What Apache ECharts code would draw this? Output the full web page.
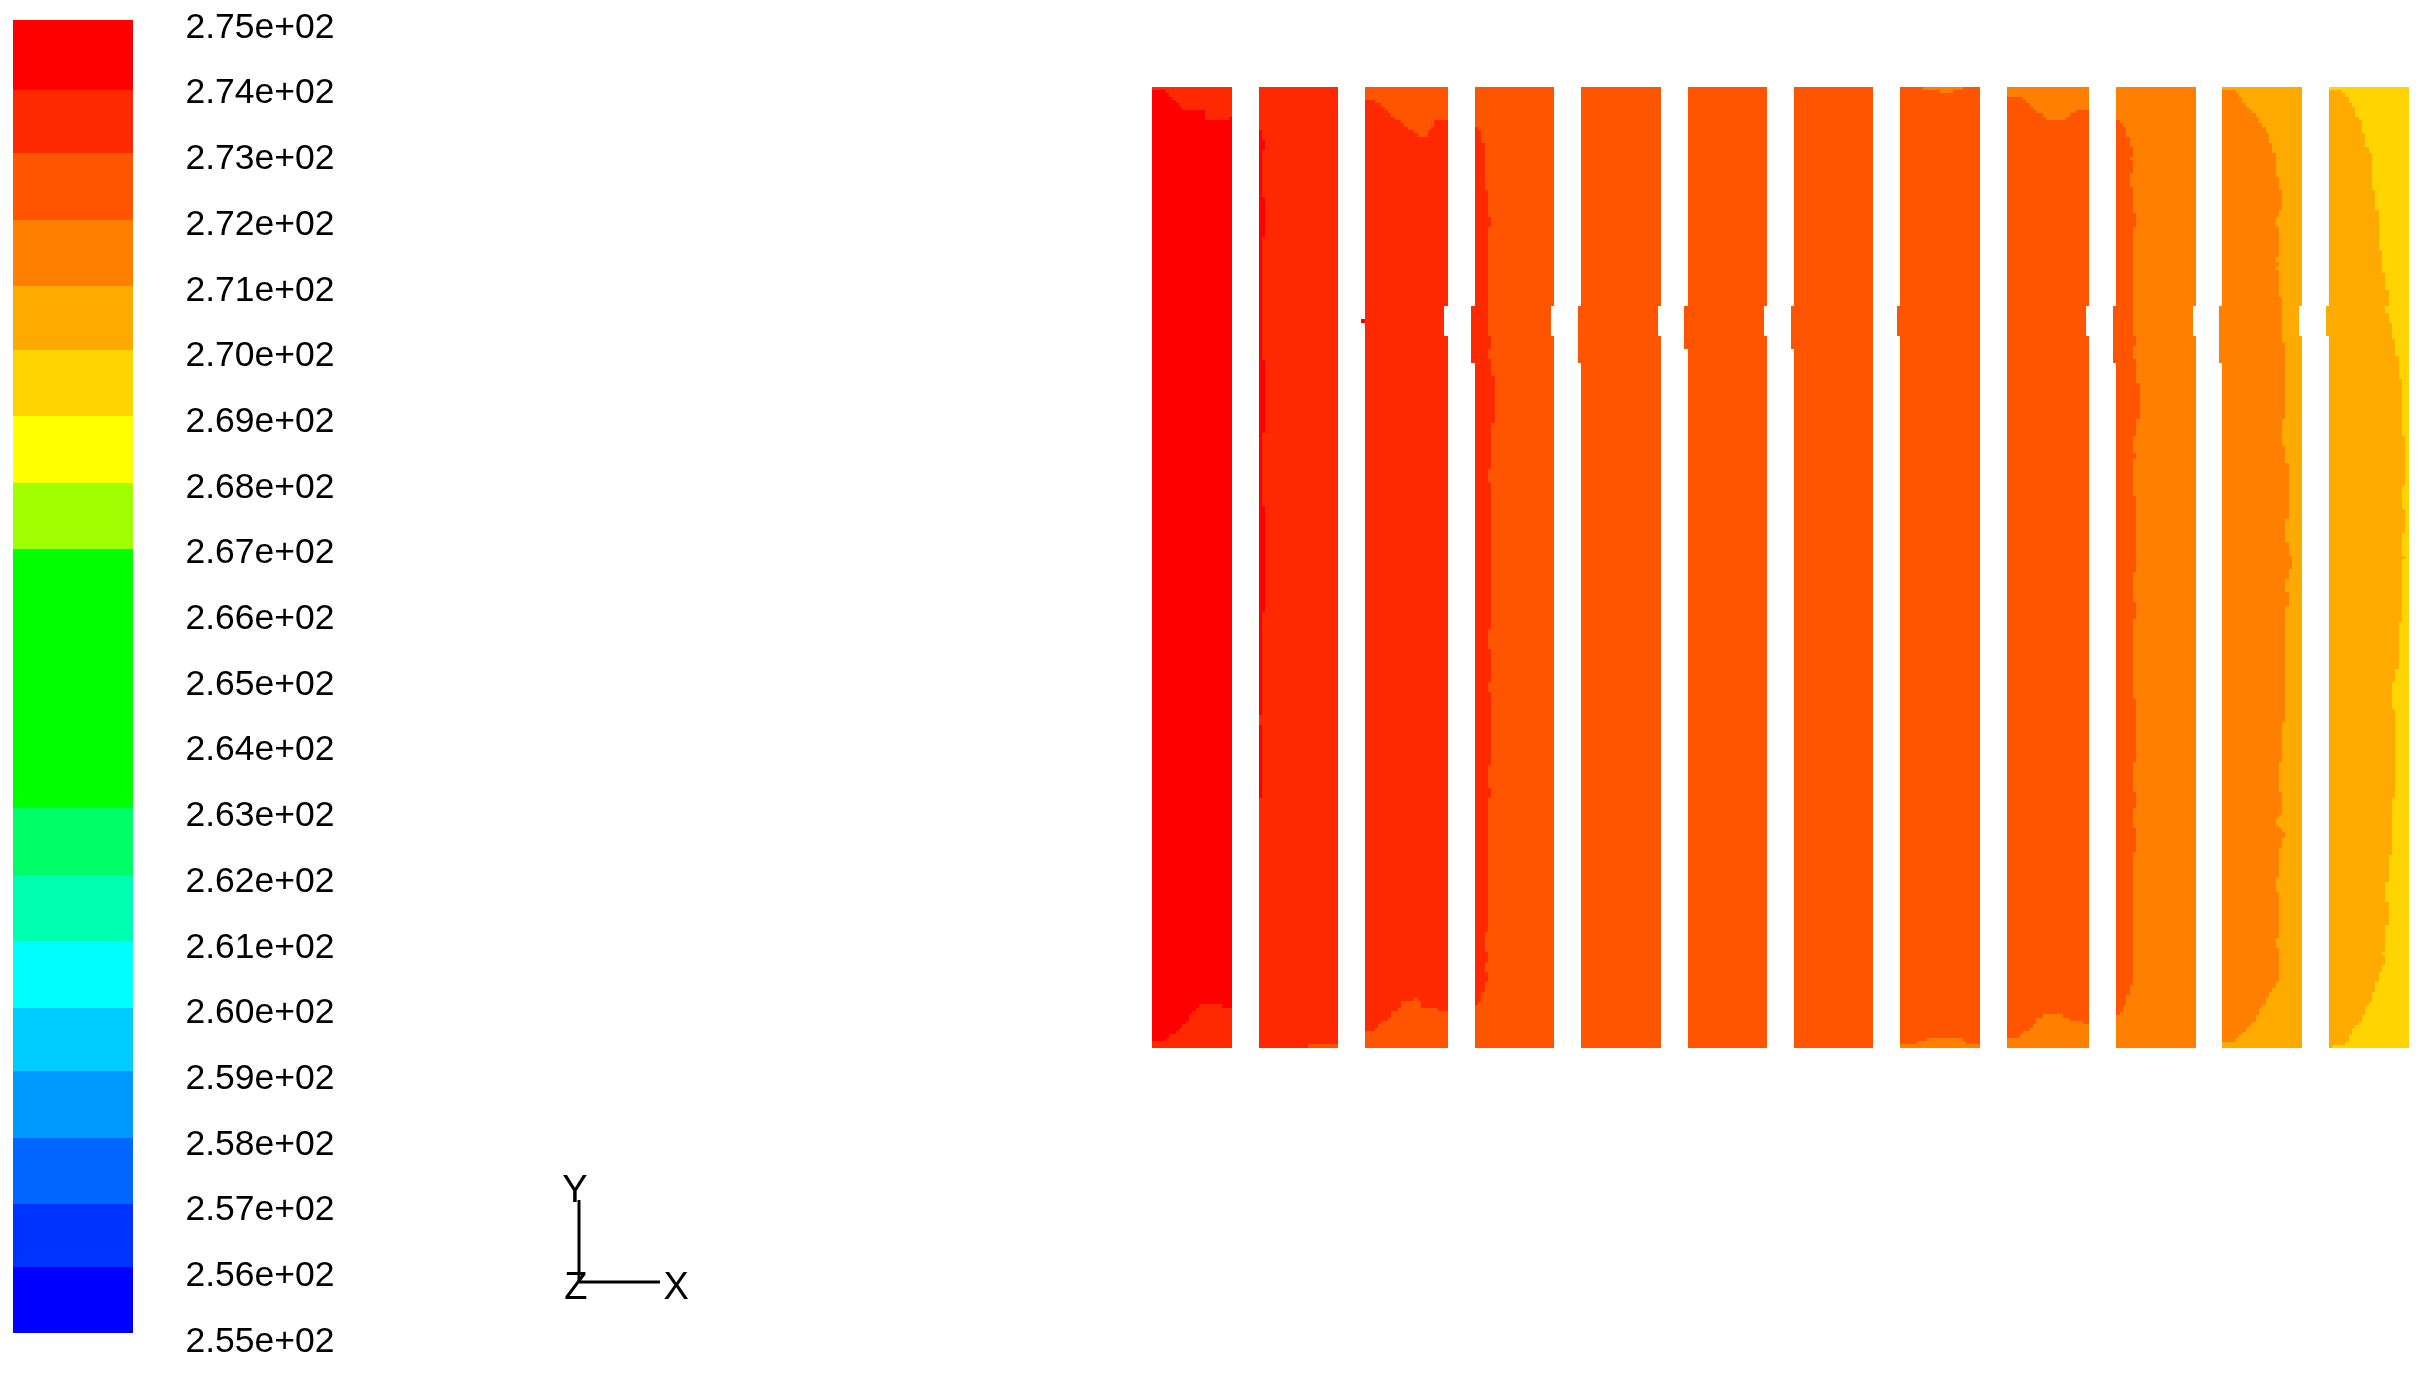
<!DOCTYPE html>
<html>
<head>
<meta charset="utf-8">
<style>html,body{margin:0;padding:0;background:#fff}#c{width:2428px;height:1381px}</style>
<script src="https://cdn.jsdelivr.net/npm/echarts@6/dist/echarts.min.js"></script>
</head>
<body>
<div id="c"></div>
<script>
// Contour levels: colours from the top of the colour bar (275) to the bottom (255)
const levelColors = ['#ff0000','#ff2900','#ff5500','#ff8000','#ffaa00','#ffd400','#ffff00','#a0ff00',
  '#00ff00','#00ff00','#00ff00','#00ff00','#00ff66','#00ffb0','#00ffff','#00ccff','#0099ff','#0066ff','#0033ff','#0000ff'];
// Band edges on the temperature axis (21 edges for 20 bands)
const bandEdges = [275.12,274.06,273.10,272.08,271.07,270.10,269.09,268.08,267.07,266.07,265.06,264.09,263.13,262.11,261.10,260.08,259.13,258.11,257.10,256.14,255.13];
const tickLabels = ['2.55e+02','2.56e+02','2.57e+02','2.58e+02','2.59e+02','2.60e+02','2.61e+02','2.62e+02','2.63e+02','2.64e+02','2.65e+02','2.66e+02','2.67e+02','2.68e+02','2.69e+02','2.70e+02','2.71e+02','2.72e+02','2.73e+02','2.74e+02','2.75e+02'];

// Field: mesh-cell units. Twelve strips, each with a base contour level.
const fieldHeight = 288.3;
const stripOffset = [0,32,64,97.2,129.3,161.4,193.4,225.4,257.5,290.6,322.6,354.7];
const stripWidth  = [24,24,25,24,24,24,24,24,25,24,24,24];
const stripBase   = [1,1,2,2,2,2,2,2,3,3,4,5];
const stripBulgeEnd = [null,null,null,82.8,82.8,78.8,78.8,74.8,null,82.8,82.8,74.8];
const stripNotch  = [false,false,true,true,true,true,false,false,true,true,true,false];
const tabTop = 65.8, notchEnd = 74.8;

// Contours inside the strips: start cell, then moves [col,row] (across to col, then along to row)
const contourS1 = {strip:0,level:0,start:[0,1],moves:[[4,2],[5,3],[6,4],[7,5],[8,6],[9,7],[16,10],[23,9],[24,276.3],[21,275.3],[14,276.3],[13,277.3],[12,278.3],[11,280.3],[10,281.3],[9,282.3],[8,283.3],[7,284.3],[5,285.3],[4,286.3],[0,286.3]]};
const contourS2a = {strip:1,level:0,start:[0,13],moves:[[1,16],[2,19],[1,33],[2,45],[1,82],[2,103.8],[1,125.8],[2,157.5],[1,188.5],[0,188.5]]};
const contourS2b = {strip:1,level:0,start:[0,191.5],moves:[[1,213.5],[0,213.5]]};
const contourS2c = {strip:1,level:2,start:[15,287.3],moves:[[24,288.3],[15,288.3]]};
const contourS3 = {strip:2,level:1,start:[0,4],moves:[[3,5],[5,6],[6,7],[7,8],[8,9],[9,10],[11,11],[12,12],[13,13],[15,14],[16,15],[19,13],[20,12],[21,10],[25,65.8],[24,74.8],[25,277.3],[22,276.3],[17,274.3],[16,273.3],[15,274.3],[11,276.3],[10,277.3],[8,279.3],[7,280.3],[5,281.3],[4,282.3],[3,283.3],[0,283.3]]};
const contourS3b = {strip:2,level:0,start:[-1,69.8],moves:[[0,70.8],[-1,70.8]]};
const contourS4 = {strip:3,level:1,start:[0,12],moves:[[1,13],[2,17],[3,31],[4,39],[5,42],[4,74.8],[5,78.8],[4,81.8],[5,86.8],[6,100.8],[5,114.7],[4,118.7],[5,162.6],[4,168.6],[5,178.6],[4,181.6],[5,203.5],[4,210.5],[5,213.5],[4,253.5],[3,259.5],[4,262.5],[3,265.5],[4,268.5],[3,271.5],[2,274.5],[1,275.5],[0,275.5],[0,82.8],[-1,65.8]]};
const contourS8a = {strip:7,level:3,start:[7,0],moves:[[19,1],[16,2],[12,1],[7,0]]};
const contourS8b = {strip:7,level:3,start:[0,287.3],moves:[[5,286.3],[8,285.3],[19,286.3],[20,287.3],[24,288.3],[0,288.3]]};
const contourS9 = {strip:8,level:2,start:[0,3],moves:[[5,4],[6,5],[7,6],[8,7],[9,8],[11,9],[12,10],[18,9],[19,8],[21,7],[25,65.8],[24,74.8],[25,281.3],[23,280.3],[19,279.3],[17,278.3],[11,279.3],[9,281.3],[8,282.3],[7,283.3],[5,284.3],[4,285.3],[0,285.3]]};
const contourS10 = {strip:9,level:2,start:[0,10],moves:[[1,11],[2,12],[3,15],[4,18],[5,21],[4,22],[5,26],[4,30],[5,38],[6,42],[5,74.8],[6,77.8],[5,81.8],[6,88.8],[7,99.8],[6,104.8],[5,109.8],[6,111.8],[5,122.8],[6,145.6],[5,154.6],[6,159.6],[5,183.6],[6,202.5],[5,211.5],[6,216.5],[5,222.5],[6,229.5],[5,269.5],[4,272.5],[3,275.5],[2,277.5],[1,278.5],[0,278.5],[0,82.8],[-1,65.8]]};
const contourS11 = {strip:10,level:3,start:[0,1],moves:[[4,2],[5,3],[6,5],[7,6],[8,7],[9,8],[10,9],[11,11],[12,12],[13,14],[14,17],[15,20],[16,27],[17,31],[18,37],[17,39],[16,42],[17,51],[16,52.5],[17,54],[16,55],[17,63],[18,76.8],[19,99.8],[18,107.8],[19,112.8],[20,129.7],[19,136.7],[20,140.7],[21,144.7],[20,147.7],[19,151.7],[20,155.7],[19,190.6],[18,202.5],[17,211.5],[18,218.5],[17,219.5],[16,221.5],[17,222.5],[18,223.5],[19,225.5],[18,228.5],[17,237.5],[16,241.5],[17,255.5],[16,258.5],[17,268.5],[16,270.5],[15,271.5],[14,273.5],[13,275.5],[12,276.5],[11,278.5],[10,280.5],[9,281.5],[8,282.5],[7,283.5],[6,284.5],[5,285.5],[4,286.5],[0,286.5],[0,82.8],[-1,65.8]]};
const contourS12 = {strip:11,level:4,start:[0,1],moves:[[4,2],[5,3],[6,5],[7,6],[8,9],[9,10],[10,14],[11,18],[12,20],[13,31],[14,37],[15,49],[16,56],[17,61],[18,65.8],[17,67.8],[18,70.8],[19,75.8],[20,80.8],[21,87.8],[22,104.8],[23,119.8],[22,126.8],[23,133.8],[22,140.8],[23,141.8],[22,160.6],[21,174.6],[20,178.6],[19,186.6],[20,213.5],[19,230.5],[18,238.5],[17,244.5],[18,251.5],[17,259.5],[16,260.5],[17,263.5],[16,265.5],[15,268.5],[14,271.5],[13,274.5],[12,275.5],[11,278.5],[10,280.5],[9,281.5],[8,282.5],[7,284.5],[6,286.5],[5,287.5],[1,288.3],[0,288.3],[0,74.8],[-1,65.8]]};
const contours = [contourS1,contourS2a,contourS2b,contourS2c,contourS3,contourS3b,contourS4,contourS8a,contourS8b,contourS9,contourS10,contourS11,contourS12];

// Coordinate triad
const triadArms = [[1,0],[0,1]];
const triadNames = [{t:'Y',x:-0.05,y:1.10},{t:'Z',x:-0.04,y:-0.08},{t:'X',x:1.2,y:-0.08}];

function trace(strip, start, moves) {
  const ox = stripOffset[strip];
  const pts = [[start[0]+ox, start[1]]];
  let r = start[1];
  moves.forEach(m => { pts.push([m[0]+ox, r]); pts.push([m[0]+ox, m[1]]); r = m[1]; });
  pts.push([start[0]+ox, r]);
  return pts;
}
function outline(i) {
  const w = stripWidth[i], m = [];
  if (stripNotch[i]) m.push([w,tabTop],[w-1,notchEnd]);
  m.push([w,fieldHeight]);
  if (stripBulgeEnd[i] !== null) m.push([0,fieldHeight],[0,stripBulgeEnd[i]],[-1,tabTop]);
  else m.push([0,fieldHeight]);
  return trace(i,[0,0],m);
}
const fieldRegions = stripOffset.map((_,i)=>({level:stripBase[i],pts:outline(i)}))
  .concat(contours.map(c=>({level:c.level,pts:trace(c.strip,c.start,c.moves)})));

const hidden = i => ({gridIndex:i,type:'value',show:false});
const font = '"Liberation Sans", Arial, sans-serif';

const option = {
  backgroundColor:'#ffffff',
  animation:false,
  grid:[
    {left:1152.4,top:86.7,width:1273.7,height:961},
    {left:13,top:28,width:119.5,height:1314},
    {left:579,top:1200,width:81,height:82}
  ],
  xAxis:[
    Object.assign(hidden(0),{min:0,max:384}),
    Object.assign(hidden(1),{min:0,max:1}),
    Object.assign(hidden(2),{min:0,max:1})
  ],
  yAxis:[
    Object.assign(hidden(0),{min:0,max:fieldHeight,inverse:true}),
    {gridIndex:1,type:'value',position:'right',min:255,max:275,interval:1,
     axisLine:{show:false},axisTick:{show:false},splitLine:{show:false},
     axisLabel:{show:true,margin:53,color:'#000',fontFamily:font,fontSize:35.5,showMinLabel:true,showMaxLabel:true,
       formatter:(v)=>tickLabels[Math.round(v-255)]}},
    Object.assign(hidden(2),{min:0,max:1})
  ],
  series:[
    {type:'custom',xAxisIndex:1,yAxisIndex:1,silent:true,
     data:levelColors.map((c,i)=>[0,1,bandEdges[i],bandEdges[i+1],c]),
     renderItem:(p,api)=>{
       const a=api.coord([api.value(0),api.value(2)]).map(Math.round),b=api.coord([api.value(1),api.value(3)]).map(Math.round);
       return {type:'rect',shape:{x:a[0],y:a[1],width:b[0]-a[0],height:b[1]-a[1]},style:{fill:levelColors[p.dataIndex]}};
     }},
    {type:'custom',xAxisIndex:0,yAxisIndex:0,silent:true,
     data:fieldRegions.map((r,i)=>[i,r.level]),
     renderItem:(p,api)=>{
       const r=fieldRegions[p.dataIndex];
       return {type:'polygon',shape:{points:r.pts.map(q=>api.coord(q).map(Math.round))},style:{fill:levelColors[r.level]}};
     }},
    {type:'custom',xAxisIndex:2,yAxisIndex:2,silent:true,
     data:triadArms.map(a=>[a[0],a[1]]),
     renderItem:(p,api)=>{
       const o=api.coord([0,0]),e=api.coord([api.value(0),api.value(1)]);
       return {type:'line',shape:{x1:o[0],y1:o[1],x2:e[0],y2:e[1]},style:{stroke:'#000',lineWidth:3}};
     }},
    {type:'custom',xAxisIndex:2,yAxisIndex:2,silent:true,
     data:triadNames.map(n=>[n.x,n.y]),
     renderItem:(p,api)=>{
       const c=api.coord([api.value(0),api.value(1)]);
       return {type:'text',style:{x:c[0],y:c[1],text:triadNames[p.dataIndex].t,fill:'#000',font:'38px '+font,textAlign:'center',textVerticalAlign:'middle'}};
     }}
  ]
};
echarts.init(document.getElementById('c'),null,{renderer:'canvas'}).setOption(option);
</script>
</body>
</html>
